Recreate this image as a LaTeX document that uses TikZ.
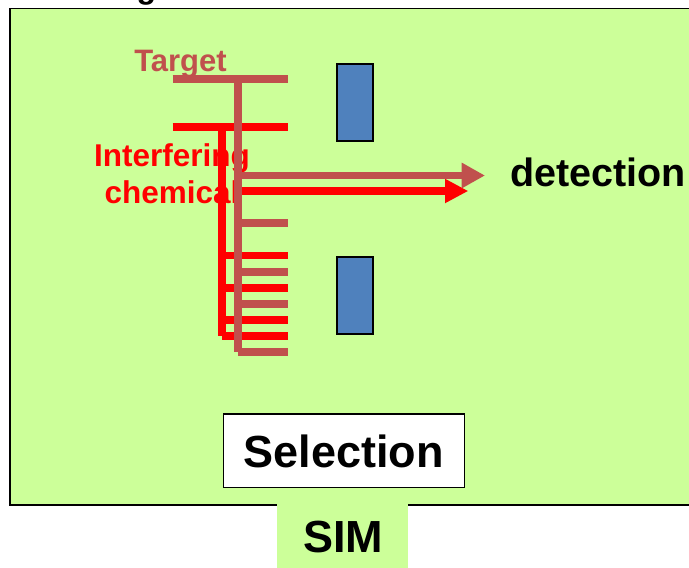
\documentclass[tikz,border=0pt]{standalone}
\usepackage{fontspec}
\setmainfont{Liberation Sans}
\usetikzlibrary{arrows.meta}
\definecolor{panelgreen}{RGB}{204,255,153}
\definecolor{targetred}{RGB}{192,80,77}
\definecolor{detblue}{RGB}{79,129,189}
\tikzset{
  bar/.style={line width=7.6pt, line cap=butt},
  targetbar/.style={bar, draw=targetred},
  interbar/.style={bar, draw=red},
  detector/.style={draw=black, line width=2pt, fill=detblue,
    minimum width=36.6pt, minimum height=76.7pt, inner sep=0pt},
  labeltext/.style={inner sep=0pt, font=\bfseries\fontsize{#1}{#1}\selectfont},
  targetarrow/.style={bar, draw=targetred, fill=targetred,
    -{Triangle[length=23.3pt,width=24pt]}},
  interarrow/.style={bar, draw=red, fill=red,
    -{Triangle[length=23.3pt,width=22.7pt]}},
}
\begin{document}
\begin{tikzpicture}[x=1pt,y=-1pt]
\useasboundingbox (0,0) rectangle (689,568);

% tail of the heading letter above the panel
\node[labeltext=32, anchor=base] (head) at (146.5,-1.8) {g};

% instrument panel
\draw[fill=panelgreen, draw=black, line width=1.6pt] (9.8,8.3) rectangle (700,505);

% detector plates
\node[detector] (plateA) at (355,102.7) {};
\node[detector] (plateB) at (355,295.7) {};

% interfering chemical ladder
\coordinate (ispine) at (222,123.2);
\draw[interbar] (ispine) -- (222,336);
\draw[interbar] (172.7,127) -- (287.7,127);
\foreach \yy in {255.5,288,320,336}
  \draw[interbar] (222,\yy) -- (287.7,\yy);
\coordinate (isrc) at (238,191);
\coordinate (idst) at (468.3,191);
\draw[interarrow] (isrc) -- (idst);
\node[labeltext=31.5, text=red, align=center, anchor=north] (ilabel) at (172,143.4)
  {Interfering\\[5.2pt]chemical};

% target ladder
\coordinate (tspine) at (238,75.2);
\draw[targetbar] (tspine) -- (238,352);
\draw[targetbar] (172.7,79) -- (287.7,79);
\foreach \yy in {223,272,304,352}
  \draw[targetbar] (238,\yy) -- (287.7,\yy);
\coordinate (tsrc) at (238,175.5);
\coordinate (tdst) at (485,175.5);
\draw[targetarrow] (tsrc) -- (tdst);
\node[labeltext=31, text=targetred, anchor=base] (tlabel) at (180.5,71) {Target};

% detection label
\node[labeltext=39.5, anchor=base] (det) at (598,186) {detection};

% selection box
\node[draw=black, fill=white, line width=1.5pt, minimum width=241pt,
  minimum height=73.3pt, inner sep=0pt] (sel) at (343.8,450.7) {};
\node[labeltext=45, anchor=base] (seltext) at (sel.center |- 0,467) {Selection};

% SIM tab
\fill[panelgreen] (277.3,504) rectangle (407.7,570);
\node[labeltext=45, anchor=base] (sim) at (343,552) {SIM};
\end{tikzpicture}
\end{document}
